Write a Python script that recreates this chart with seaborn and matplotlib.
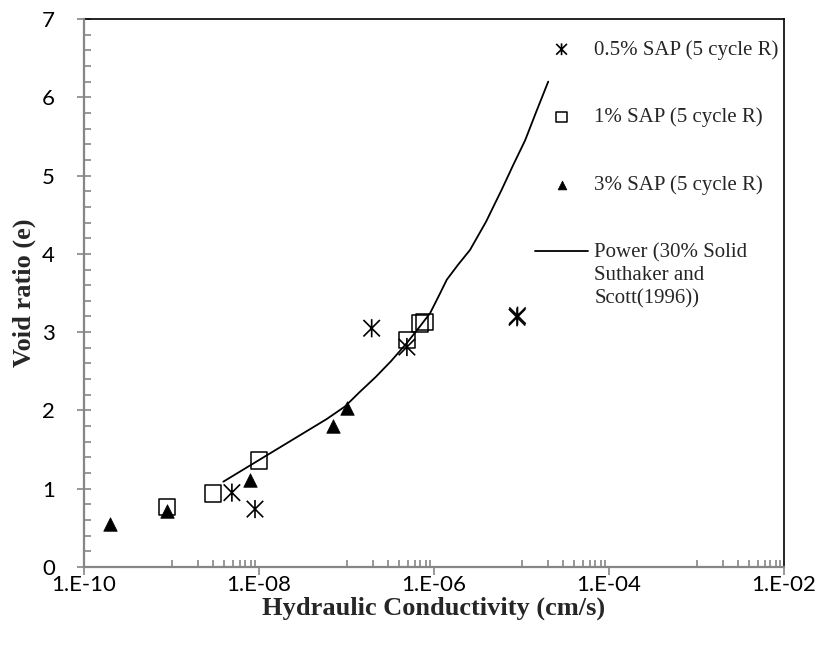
import numpy as np
import matplotlib
matplotlib.use("Agg")
import matplotlib.pyplot as plt
from matplotlib.path import Path
from matplotlib.ticker import FixedLocator, FuncFormatter, MultipleLocator
import seaborn as sns

sns.set_theme(style="ticks")
plt.rcParams['font.family'] = ['Liberation Serif', 'DejaVu Sans']

# dados
k_05 = [4.9e-9, 9.0e-9, 1.94e-7, 4.9e-7, 8.9e-6, 9.0e-6]
e_05 = [0.95, 0.74, 3.05, 2.81, 3.19, 3.21]

k_1 = [8.9e-10, 3.0e-9, 1.0e-8, 4.9e-7, 6.9e-7, 7.8e-7]
e_1 = [0.77, 0.94, 1.36, 2.90, 3.11, 3.13]

k_3 = [2.0e-10, 8.9e-10, 7.9e-9, 7.1e-8, 1.0e-7]
e_3 = [0.55, 0.71, 1.11, 1.80, 2.03]

k_pow = [3.91e-9, 5.94e-8, 9.6e-8, 1.43e-7, 2.17e-7, 3.23e-7, 4.88e-7, 6.65e-7, 9.0e-7,
         1.12e-6, 1.40e-6, 1.88e-6, 2.58e-6, 3.93e-6, 5.94e-6, 8.0e-6, 1.10e-5, 1.48e-5, 2.02e-5]
e_pow = [1.09, 1.89, 2.05, 2.24, 2.43, 2.63, 2.86, 3.05, 3.24,
         3.45, 3.67, 3.86, 4.05, 4.41, 4.82, 5.13, 5.45, 5.82, 6.20]

labels = ['0.5% SAP (5 cycle R)', '1% SAP (5 cycle R)', '3% SAP (5 cycle R)',
          'Power (30% Solid\nSuthaker and\nScott(1996))']

star = Path([(-1, -1), (1, 1), (-1, 1), (1, -1), (0, -1.1), (0, 1.1)],
            [Path.MOVETO, Path.LINETO, Path.MOVETO, Path.LINETO, Path.MOVETO, Path.LINETO])

fig = plt.figure(figsize=(8.2, 6.48), dpi=100)
ax = fig.add_axes([84 / 820, 1 - 567 / 648, 700 / 820, 548 / 648])

sns.scatterplot(x=k_05, y=e_05, ax=ax, marker=star, s=170, facecolor='none',
                edgecolor='black', linewidth=1.2, label=labels[0])
sns.scatterplot(x=k_1, y=e_1, ax=ax, marker='s', s=140, facecolor='none',
                edgecolor='black', linewidth=1.1, label=labels[1])
sns.scatterplot(x=k_3, y=e_3, ax=ax, marker='^', s=95, color='black',
                edgecolor='black', linewidth=0.5, label=labels[2])
sns.lineplot(x=k_pow, y=e_pow, ax=ax, sort=False, estimator=None, color='black',
             linewidth=1.3, label=labels[3])

ax.set_xscale('log')
ax.set_xlim(1e-10, 1e-2)
ax.set_ylim(0, 7)
ax.set_xticks([1e-10, 1e-8, 1e-6, 1e-4, 1e-2])
ax.xaxis.set_minor_locator(FixedLocator([m * 10.0 ** p for p in (-9, -7, -5, -3) for m in range(1, 10)]))
ax.xaxis.set_major_formatter(FuncFormatter(lambda v, _: "1.E%+03d" % int(round(np.log10(v)))))
ax.xaxis.set_minor_formatter(FuncFormatter(lambda v, _: ""))
ax.yaxis.set_major_locator(MultipleLocator(1))
ax.yaxis.set_minor_locator(MultipleLocator(0.2))

gray = '#868686'
for s in ['left', 'bottom']:
    ax.spines[s].set_color(gray)
    ax.spines[s].set_linewidth(1.6)
    ax.spines[s].set_zorder(3)
for s in ['top', 'right']:
    ax.spines[s].set_color('black')
    ax.spines[s].set_linewidth(1.2)

ax.tick_params(axis='y', which='major', direction='inout', length=10, width=1.2, color=gray, pad=16)
ax.tick_params(axis='y', which='minor', direction='in', length=5, width=1.2, color=gray)
ax.tick_params(axis='x', which='major', direction='out', length=6, width=1.2, color=gray, pad=0)
ax.tick_params(axis='x', which='minor', direction='in', length=5, width=1.2, color=gray)
for t in ax.get_xticklabels() + ax.get_yticklabels():
    t.set_fontfamily('Lato')
    t.set_fontsize(16)
    t.set_color('black')

ax.set_xlabel('Hydraulic Conductivity (cm/s)', fontsize=19, fontweight='bold', labelpad=1)
ax.set_ylabel('Void ratio (e)', fontsize=19, fontweight='bold', labelpad=4)

leg = ax.legend(loc='upper left', bbox_to_anchor=(535 / 820, 1 - 40 / 648), bbox_transform=fig.transFigure,
                frameon=False, fontsize=15, handlelength=2.55, handletextpad=0.3, labelspacing=2.3,
                borderpad=0, borderaxespad=0, markerscale=0.65)
leg.texts[3].set_linespacing(1.3)
# alinhar a linha da legenda com a primeira linha do texto
ln = leg.legend_handles[3]
ln.set_ydata(np.asarray(ln.get_ydata()) + 18)

plt.savefig('out.png', dpi=100)
plt.close()
